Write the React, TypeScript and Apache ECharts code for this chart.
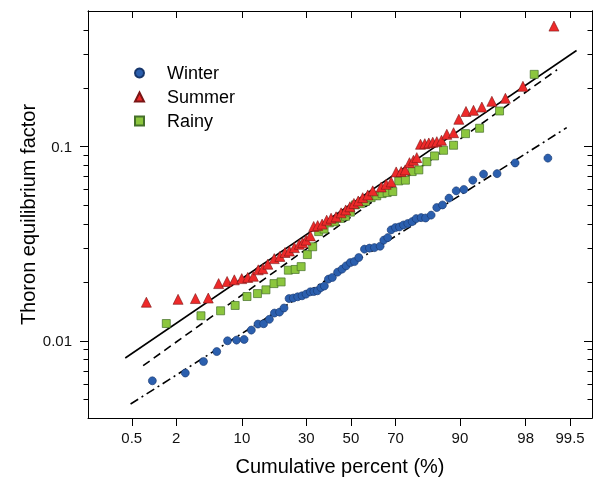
import React, { useEffect, useRef } from "react";
import * as echarts from "echarts";

// ---- data: [cumulative percent, thoron equilibrium factor]
const winter: [number, number][] = [
  [0.98, 0.00622], [2.58, 0.00682], [4.16, 0.00782], [5.74, 0.0088], [7.35, 0.01], [8.94, 0.01008],
  [10.47, 0.01016], [12.09, 0.01135], [13.73, 0.01219], [15.25, 0.01224], [16.89, 0.0129], [18.44, 0.01389],
  [20.08, 0.01405], [21.59, 0.01475], [23.36, 0.0165], [24.93, 0.0166], [26.57, 0.01685], [28.29, 0.01705],
  [29.9, 0.01739], [31.68, 0.01788], [33.17, 0.01794], [34.66, 0.01809], [36.21, 0.01879], [37.75, 0.01914],
  [39.56, 0.02077], [41.38, 0.0212], [43.78, 0.02257], [45.87, 0.02339], [47.75, 0.02432], [49.76, 0.02529],
  [51.64, 0.02559], [53.66, 0.02684], [56.32, 0.02965], [58.62, 0.03], [60.9, 0.0302], [63.44, 0.03071],
  [65.04, 0.033], [66.75, 0.034], [68.19, 0.03726], [69.97, 0.0383], [71.59, 0.0386], [73.16, 0.0395],
  [74.8, 0.0402], [76.43, 0.0411], [77.85, 0.0426], [79.56, 0.0431], [81.0, 0.0429], [82.72, 0.0444],
  [84.35, 0.0486], [85.92, 0.0501], [87.55, 0.0543], [89.21, 0.0592], [90.78, 0.0602], [92.4, 0.0672],
  [94.05, 0.0722], [95.71, 0.0726], [97.32, 0.0824], [98.97, 0.0873],
];

const summer: [number, number][] = [
  [0.81, 0.0158], [2.11, 0.01635], [3.38, 0.0165], [4.68, 0.0166], [6.0, 0.0197], [7.28, 0.0202],
  [8.53, 0.0206], [9.97, 0.0209], [11.27, 0.0212], [12.58, 0.0215], [13.81, 0.0232], [15.03, 0.0235],
  [16.44, 0.0248], [18.38, 0.0265], [20.19, 0.0272], [21.94, 0.0285], [23.47, 0.029], [25.31, 0.0302],
  [27.22, 0.0314], [28.53, 0.032], [29.9, 0.033], [31.68, 0.0347], [33.09, 0.0388], [34.8, 0.0392],
  [36.75, 0.0399], [38.79, 0.0418], [40.79, 0.0428], [43.08, 0.0435], [45.41, 0.0456], [47.56, 0.0472],
  [49.53, 0.049], [51.41, 0.051], [53.43, 0.0525], [55.52, 0.0546], [57.85, 0.0564], [60.12, 0.0592],
  [63.9, 0.062], [66.07, 0.064], [68.19, 0.0658], [70.26, 0.0741], [72.27, 0.0744], [73.81, 0.0759],
  [75.44, 0.0827], [76.89, 0.0851], [78.06, 0.0878], [79.33, 0.1029], [80.74, 0.1036], [82.01, 0.1045],
  [83.2, 0.1054], [84.37, 0.1061], [85.65, 0.1079], [87.02, 0.1158], [88.62, 0.118], [89.77, 0.1384],
  [91.19, 0.1518], [92.52, 0.1539], [93.81, 0.16], [95.12, 0.1713], [96.53, 0.1775], [97.84, 0.2046],
  [99.15, 0.418],
];

const rainy: [number, number][] = [
  [1.5, 0.01227], [3.9, 0.01345], [6.28, 0.01427], [8.68, 0.0152], [11.1, 0.0169], [13.6, 0.0175],
  [15.9, 0.0183], [18.3, 0.0197], [20.6, 0.0201], [23.11, 0.0231], [25.62, 0.0233], [27.93, 0.0241],
  [30.43, 0.0278], [32.66, 0.0305], [35.24, 0.0365], [37.62, 0.0376], [40.0, 0.0405], [42.3, 0.041],
  [44.85, 0.0427], [47.42, 0.0438], [49.76, 0.046], [52.11, 0.0501], [54.46, 0.0509], [56.78, 0.0522],
  [59.39, 0.0546], [61.94, 0.0558], [64.32, 0.0573], [66.49, 0.058], [68.87, 0.0587], [71.3, 0.0666],
  [73.92, 0.0672], [76.43, 0.0744], [78.77, 0.0759], [81.39, 0.0837], [83.71, 0.0896], [86.19, 0.0958],
  [88.62, 0.1017], [91.1, 0.1167], [93.48, 0.1244], [95.97, 0.1527], [98.44, 0.2358],
];

// fitted lines (endpoints)
const summerFit: [number, number][] = [[0.4, 0.00815], [99.6, 0.313]];
const rainyFit: [number, number][] = [[0.73, 0.00744], [99.23, 0.249]];
const winterFit: [number, number][] = [[0.48, 0.00472], [99.44, 0.1253]];

// axes
const PCT_TICKS = [0.5, 2, 10, 30, 50, 70, 90, 98, 99.5];
const PCT_TICK_LABELS = ["0.5", "2", "10", "30", "50", "70", "90", "98", "99.5"];
const PCT_RANGE = [0.1, 99.77];
const FACTOR_MAJOR = [0.01, 0.1];
const FACTOR_MAJOR_LABELS = ["0.01", "0.1"];
const FACTOR_MINOR = [0.005, 0.006, 0.007, 0.008, 0.009, 0.02, 0.03, 0.04, 0.05, 0.06, 0.07, 0.08, 0.09, 0.2, 0.3, 0.4];
const FACTOR_RANGE = [0.004, 0.5];

function probit(p: number): number {
  const a = [-3.969683028665376e1, 2.209460984245205e2, -2.759285104469687e2, 1.38357751867269e2, -3.066479806614716e1, 2.506628277459239];
  const b = [-5.447609879822406e1, 1.615858368580409e2, -1.556989798598866e2, 6.680131188771972e1, -1.328068155288572e1];
  const c = [-7.784894002430293e-3, -3.223964580411365e-1, -2.400758277161838, -2.549732539343734, 4.374664141464968, 2.938163982698783];
  const d = [7.784695709041462e-3, 3.224671290700398e-1, 2.445134137142996, 3.754408661907416];
  const pl = 0.02425;
  if (p < pl) {
    const q = Math.sqrt(-2 * Math.log(p));
    return (((((c[0] * q + c[1]) * q + c[2]) * q + c[3]) * q + c[4]) * q + c[5]) / ((((d[0] * q + d[1]) * q + d[2]) * q + d[3]) * q + 1);
  }
  if (p <= 1 - pl) {
    const q = p - 0.5;
    const r = q * q;
    return ((((((a[0] * r + a[1]) * r + a[2]) * r + a[3]) * r + a[4]) * r + a[5]) * q) / (((((b[0] * r + b[1]) * r + b[2]) * r + b[3]) * r + b[4]) * r + 1);
  }
  const q = Math.sqrt(-2 * Math.log(1 - p));
  return -(((((c[0] * q + c[1]) * q + c[2]) * q + c[3]) * q + c[4]) * q + c[5]) / ((((d[0] * q + d[1]) * q + d[2]) * q + d[3]) * q + 1);
}

const px = (pct: number) => probit(pct / 100);
const ly = (v: number) => Math.log10(v);
const toXY = (arr: [number, number][]) => arr.map(([p, v]) => [px(p), ly(v)]);

const FONT = "'Liberation Sans', Arial, sans-serif";

export default function App() {
  const ref = useRef<HTMLDivElement>(null);
  useEffect(() => {
    if (!ref.current) return;
    const chart = echarts.init(ref.current, undefined, { renderer: "svg" });
    const xMin = px(PCT_RANGE[0]);
    const xMax = px(PCT_RANGE[1]);
    const yMin = ly(FACTOR_RANGE[0]);
    const yMax = ly(FACTOR_RANGE[1]);
    const xTickVals = PCT_TICKS.map(px);
    const yMajor = FACTOR_MAJOR.map(ly);
    const yMinor = FACTOR_MINOR.map(ly);
    const nearestIdx = (vals: number[], v: number) => {
      let bi = 0;
      vals.forEach((t, i) => { if (Math.abs(t - v) < Math.abs(vals[bi] - v)) bi = i; });
      return bi;
    };
    const line = { show: true, onZero: false, lineStyle: { color: "#000", width: 1 } };
    const baseX = { type: "value", min: xMin, max: xMax, splitLine: { show: false }, axisLine: line };
    const baseY = { type: "value", min: yMin, max: yMax, splitLine: { show: false }, axisLine: line };

    const option: any = {
      animation: false,
      grid: { left: 88, right: 4, top: 11, bottom: 64, containLabel: false },
      xAxis: [
        {
          ...baseX,
          position: "bottom",
          axisTick: { show: true, inside: false, length: 8, customValues: xTickVals, lineStyle: { color: "#000", width: 1 } },
          axisLabel: {
            show: true, customValues: xTickVals, margin: 12, fontSize: 15, color: "#111", fontFamily: FONT,
            formatter: (v: number) => PCT_TICK_LABELS[nearestIdx(xTickVals, v)],
          },
          name: "Cumulative percent (%)",
          nameLocation: "middle",
          nameGap: 38,
          nameMoveOverlap: false,
          nameTextStyle: { fontSize: 20, color: "#000", fontFamily: FONT },
        },
        {
          ...baseX,
          position: "top",
          axisTick: { show: true, inside: true, length: 7, customValues: xTickVals, lineStyle: { color: "#000", width: 1 } },
          axisLabel: { show: false },
        },
      ],
      yAxis: [
        {
          ...baseY,
          position: "left",
          axisTick: { show: true, inside: false, length: 8, customValues: yMajor, lineStyle: { color: "#000", width: 1 } },
          axisLabel: {
            show: true, customValues: yMajor, margin: 16, fontSize: 15, color: "#111", fontFamily: FONT,
            formatter: (v: number) => FACTOR_MAJOR_LABELS[nearestIdx(yMajor, v)],
          },
          name: "Thoron equilibrium factor",
          nameLocation: "middle",
          nameGap: 50,
          nameMoveOverlap: false,
          nameTextStyle: { fontSize: 20, color: "#000", fontFamily: FONT },
        },
        {
          ...baseY,
          position: "left",
          axisTick: { show: true, inside: false, length: 4.5, customValues: yMinor, lineStyle: { color: "#000", width: 1 } },
          axisLabel: { show: false },
        },
        {
          ...baseY,
          position: "right",
          axisTick: { show: true, inside: true, length: 8, customValues: yMajor, lineStyle: { color: "#000", width: 1 } },
          axisLabel: { show: false },
        },
        {
          ...baseY,
          position: "right",
          axisTick: { show: true, inside: true, length: 4.5, customValues: yMinor, lineStyle: { color: "#000", width: 1 } },
          axisLabel: { show: false },
        },
      ],
      legend: {
        orient: "vertical",
        left: 134,
        top: 64,
        padding: 0,
        itemWidth: 9,
        itemHeight: 9,
        itemGap: 6,
        data: ["Winter", "Summer", "Rainy"],
        textStyle: { fontSize: 18, lineHeight: 18, color: "#000", fontFamily: FONT, padding: [0, 0, 0, 18] },
      },
      series: [
        {
          type: "line", data: toXY(summerFit), symbol: "none", silent: true, z: 1,
          lineStyle: { color: "#000", width: 1.6, type: "solid", opacity: 1 },
        },
        {
          type: "line", data: toXY(rainyFit), symbol: "none", silent: true, z: 1,
          lineStyle: { color: "#000", width: 1.6, type: [8, 5], opacity: 1 },
        },
        {
          type: "line", data: toXY(winterFit), symbol: "none", silent: true, z: 1,
          lineStyle: { color: "#000", width: 1.6, type: [9, 4, 2, 4], opacity: 1 },
        },
        {
          name: "Winter", type: "scatter", symbol: "circle", symbolSize: 8, z: 3,
          itemStyle: { color: "#2b5fae", borderColor: "#17366b", borderWidth: 0.6, opacity: 1 },
          data: toXY(winter),
        },
        {
          name: "Summer", type: "scatter", symbol: "triangle", symbolSize: 10, z: 4,
          itemStyle: { color: "#ee2a2a", borderColor: "#7a1515", borderWidth: 0.6, opacity: 1 },
          data: toXY(summer),
        },
        {
          name: "Rainy", type: "scatter", symbol: "rect", symbolSize: 8, z: 3,
          itemStyle: { color: "#8cc63e", borderColor: "#45702a", borderWidth: 0.7, opacity: 1 },
          data: toXY(rainy),
        },
      ],
    };
    chart.setOption(option);
    return () => chart.dispose();
  }, []);
  return <div ref={ref} style={{ position: "fixed", left: 0, top: 0, width: 596, height: 482 }} />;
}
